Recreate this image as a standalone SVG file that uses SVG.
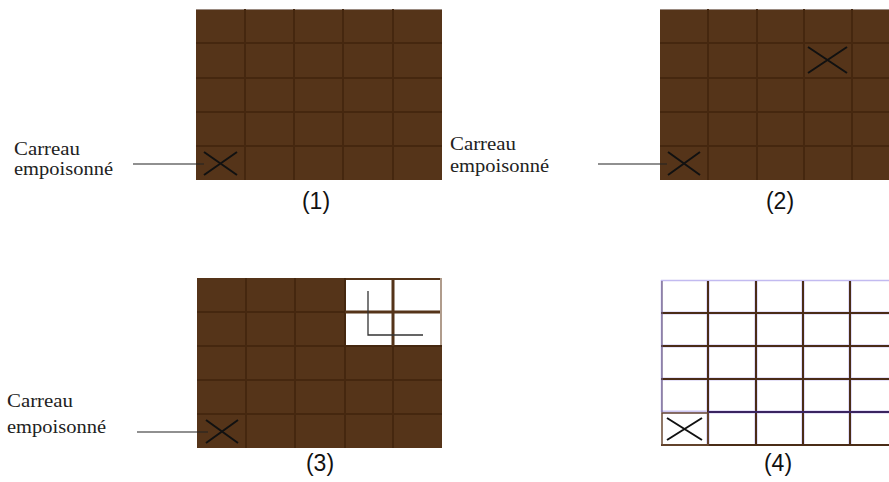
<svg xmlns="http://www.w3.org/2000/svg" width="889" height="482" viewBox="0 0 889 482">
<style>
.bar{fill:#553419}
.gl{stroke:#45270f;stroke-width:2;fill:none}
.lbl{font-family:"Liberation Serif",serif;font-size:19px;fill:#222}
.num{font-family:"Liberation Sans",Arial,sans-serif;font-size:23px;fill:#111;text-anchor:middle}
.x{stroke:#111;stroke-width:2;fill:none}
.lead{stroke:#222;stroke-width:1.2;fill:none}
.pl{stroke:#cdc6f2;stroke-width:3.2;fill:none}
.bl{stroke:#4a2c17;stroke-width:2;fill:none}
</style>
<rect width="889" height="482" fill="#fff"/>

<g id="grid1">
<rect class="bar" x="196" y="9" width="246" height="171"/>
<line x1="196" y1="9.5" x2="442" y2="9.5" stroke="#9a8a80" stroke-width="1"/>
<path class="gl" d="M245,9V180M294,9V180M343,9V180M393,9V180M196,43H442M196,78H442M196,112H442M196,146H442"/>
<path class="x" d="M204,152L237,175M204,175L237,152"/>
<text class="num" x="316" y="209">(1)</text>
</g>
<g id="label1">
<text class="lbl" x="14" y="155" textLength="66" lengthAdjust="spacingAndGlyphs">Carreau</text>
<text class="lbl" x="14" y="175" textLength="99" lengthAdjust="spacingAndGlyphs">empoisonné</text>
</g>

<g id="grid2">
<rect class="bar" x="660" y="9" width="240" height="171"/>
<line x1="660" y1="9.5" x2="889" y2="9.5" stroke="#9a8a80" stroke-width="1"/>
<path class="gl" d="M708,9V180M757,9V180M804,9V180M852,9V180M660,43H889M660,78H889M660,112H889M660,146H889"/>
<path class="x" d="M668,152L700,175M668,175L700,152"/>
<path class="x" d="M808,47L847,73M808,73L847,47"/>
<text class="num" x="780" y="209">(2)</text>
</g>
<g id="label2">
<text class="lbl" x="450" y="150" textLength="66" lengthAdjust="spacingAndGlyphs">Carreau</text>
<text class="lbl" x="450" y="172" textLength="99" lengthAdjust="spacingAndGlyphs">empoisonné</text>
</g>

<g id="grid3">
<rect class="bar" x="197" y="278" width="245" height="170"/>
<rect x="345" y="280" width="95" height="65" fill="#fff"/>
<line x1="441" y1="278" x2="441" y2="346" stroke="#b09c8c" stroke-width="2"/>
<path class="gl" d="M246,278V448M295,278V448M345,278V448M393,346V448M197,312H345M197,346H442M197,380H442M197,414H442"/>
<path d="M393,278V346M345,312H440" stroke="#553419" stroke-width="3" fill="none"/>
<path d="M368,291V335H423" stroke="#333" stroke-width="1.3" fill="none"/>
<path class="x" d="M206,420L238,443M206,443L238,420"/>
<text class="num" x="320" y="471">(3)</text>
</g>
<g id="label3">
<text class="lbl" x="7" y="407" textLength="66" lengthAdjust="spacingAndGlyphs">Carreau</text>
<text class="lbl" x="7" y="433" textLength="99" lengthAdjust="spacingAndGlyphs">empoisonné</text>
</g>

<g id="grid4">
<path class="pl" d="M708,280V445M756,280V445M803,280V445M850,280V445M661,313H889M661,346H889M661,379H889M661,412H889"/>
<path d="M661,280.5H889M661.5,280V412" stroke="#c2baf0" stroke-width="1.5" fill="none"/>
<path class="bl" d="M708,281V445M756,281V445M803,281V445M850,281V445M661,313H889M661,346H889M661,379H889M661,445H889"/>
<path d="M708,412H889" stroke="#3a2460" stroke-width="2.2" fill="none"/>
<rect x="662" y="413" width="46" height="32" fill="none" stroke="#6b4a33" stroke-width="1.5"/>
<line x1="662" y1="281" x2="662" y2="412" stroke="#6a5a80" stroke-width="1.2"/>
<path class="x" d="M667,418L702,440M667,440L702,418" stroke-width="2.2"/>
<text class="num" x="778" y="471">(4)</text>
</g>

<g id="connectors">
<line class="lead" x1="133" y1="164" x2="204" y2="164"/>
<line class="lead" x1="598" y1="164" x2="667" y2="164"/>
<line class="lead" x1="137" y1="432" x2="208" y2="432"/>
</g>
</svg>
